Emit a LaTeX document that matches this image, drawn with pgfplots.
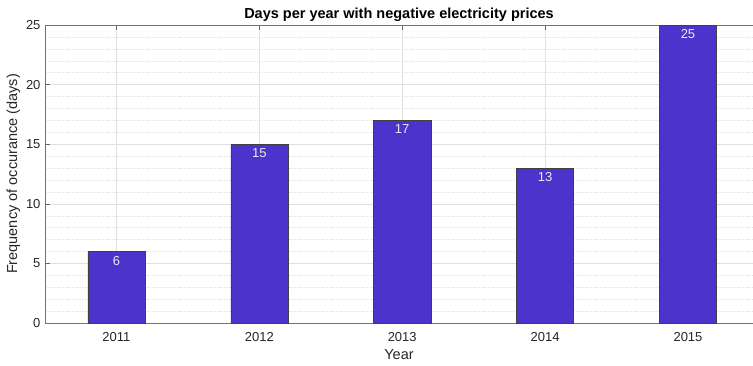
\documentclass[border=0pt]{standalone}
\usepackage{pgfplots}
\pgfplotsset{compat=1.18}
\usepackage{fontspec}
\setmainfont{Liberation Sans}
\definecolor{barc}{RGB}{76,51,204}
\definecolor{txt}{RGB}{38,38,38}
\begin{document}
\begin{tikzpicture}
\useasboundingbox (-45bp,-43bp) rectangle (708bp,323bp);
\begin{axis}[
  scale only axis, width=708bp, height=298bp,
  xmin=0.5, xmax=5.455, ymin=0, ymax=25,
  axis x line*=box, axis y line*=left,
  axis line style={draw=black!55, line width=0.6pt},
  xtick={1,2,3,4,5}, xticklabels={2011,2012,2013,2014,2015},
  ytick={0,5,10,15,20,25},
  minor y tick num=4,
  tick align=inside, major tick length=5bp, minor tick length=0pt,
  tick style={draw=black!60, line width=0.5pt},
  grid=both,
  major grid style={draw=black!12, line width=0.5pt},
  minor grid style={draw=black!10, dash pattern=on 1.5pt off 1pt, line width=0.4pt},
  /pgf/number format/assume math mode=true,
  ticklabel style={font=\fontsize{13bp}{15bp}\selectfont, text=txt},
  xticklabel style={yshift=-6bp},
  yticklabel style={xshift=-1bp},
  title={\bfseries Days per year with negative electricity prices},
  title style={font=\fontsize{14.5bp}{16bp}\selectfont, yshift=-6bp},
  xlabel={Year}, ylabel={Frequency of occurance (days)},
  label style={font=\fontsize{14.5bp}{16bp}\selectfont, text=txt},
  xlabel style={yshift=-1bp},
  ylabel style={yshift=-1bp},
]
\addplot[ybar, bar width=0.4, fill=barc, draw=black!75, line width=0.5pt,
  nodes near coords, point meta=y,
  every node near coord/.append style={anchor=north, yshift=-1bp, text=white!92!black, font=\fontsize{13bp}{15bp}\selectfont}]
  coordinates {(1,6) (2,15) (3,17) (4,13) (5,25)};
\end{axis}
\end{tikzpicture}
\end{document}
